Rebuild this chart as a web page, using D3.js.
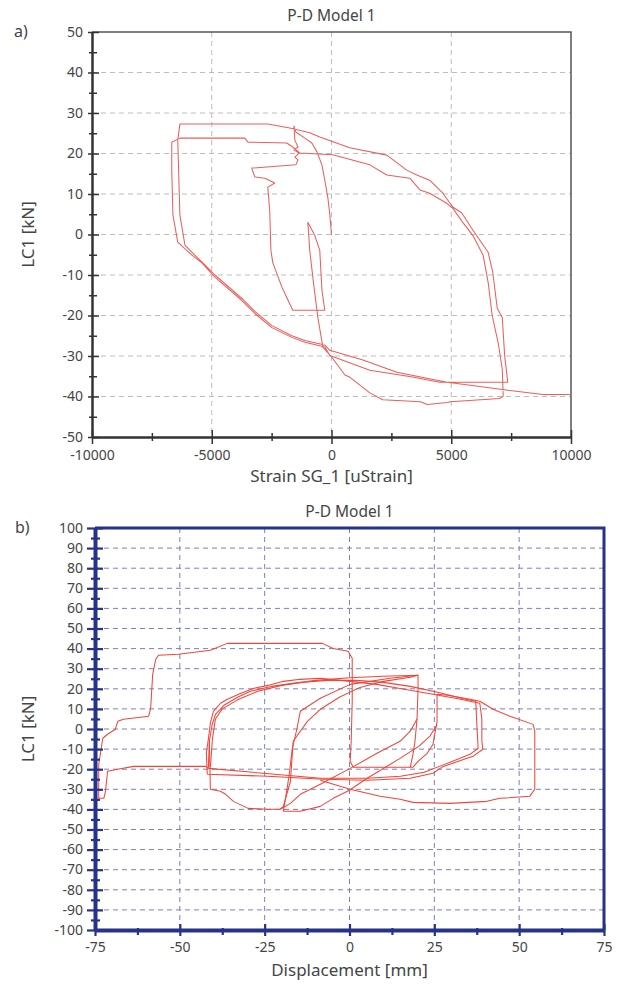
<!DOCTYPE html>
<html>
<head>
<meta charset="utf-8">
<script src="https://cdn.jsdelivr.net/npm/d3@7"></script>
<style>
  body { margin: 0; background: #fff; }
  text { font-family: "Noto Sans", sans-serif; fill: #454545; }
</style>
</head>
<body>
<svg id="chart" width="624" height="987"></svg>
<script>
// ---- panel a) : strain vs load ----
const strainTicks = [-10000, -5000, 0, 5000, 10000];
const strainMinor = [-7500, -2500, 2500, 7500];
const loadTicksA = [-50, -40, -30, -20, -10, 0, 10, 20, 30, 40, 50];

// [strain uStrain, load kN]
const strainLoad = [
  [0,0],[-70,4.8],[-150,9.0],[-280,13.4],[-400,17.2],[-610,20.4],[-820,22.6],[-1110,23.8],[-1490,25.3],[-1570,26.8],
  [-1530,23.3],[-1400,21.6],[-1570,20.9],[-1360,20.1],[-1530,19.1],[-1400,18.4],[-1490,17.2],
  [-3330,16.4],[-3200,14.2],[-2780,13.9],[-2370,12.7],[-2660,11.7],
  [-2580,6.0],[-2530,-3.9],[-2450,-7.0],[-2070,-13.0],[-1950,-14.5],[-1620,-18.7],[-280,-18.7],
  [-400,-13.7],[-490,-3.9],[-700,-0.2],[-990,3.0],
  [-950,-0.2],[-910,-3.9],[-740,-12.5],[-570,-20.5],[-360,-27.8],[10,-30.3],[560,-34.7],[760,-35.2],
  [1600,-39.1],[2140,-40.8],[3710,-41.3],[4000,-42.0],[4840,-41.5],[4960,-41.3],[7020,-40.5],[7170,-39.9],
  [7130,-33.2],[6960,-26.8],[6710,-20.0],[6540,-11.8],[6330,-5.1],[5900,-0.2],[5480,3.0],[5060,6.5],
  [4810,7.7],[4100,10.2],[3690,11.0],[3270,13.9],[2310,14.7],[1600,17.2],[50,19.7],
  [-1320,20.1],[-1620,21.6],[-1870,22.6],[-3490,22.8],[-3620,23.8],[-6330,23.8],[-6670,22.8],
  [-6670,15.9],[-6620,4.8],[-6420,-1.9],[-5830,-5.1],[-5410,-7.0],[-4870,-10.5],[-3740,-16.3],
  [-3200,-19.5],[-2490,-23.0],[-1660,-25.4],[-1110,-26.6],[-280,-27.8],
  [-70,-29.9],[1600,-33.5],[3390,-35.2],[4520,-36.5],[7360,-36.5],
  [7230,-29.9],[7130,-20.5],[6920,-18.2],[6730,-9.2],[6540,-4.4],[5900,1.1],[5440,5.3],[5060,6.8],
  [4650,10.2],[4100,13.4],[3560,14.7],[3140,15.9],[2310,19.6],[760,21.4],[-490,24.1],[-910,25.1],
  [-1740,26.3],[-2660,27.3],[-6330,27.3],
  [-6420,23.3],[-6330,4.8],[-6120,-2.6],[-5710,-5.1],[-5290,-7.5],[-4870,-10.0],[-3740,-15.8],
  [-3200,-19.0],[-2490,-22.5],[-1660,-25.0],[-1110,-26.2],[-280,-27.3],[-70,-28.6],
  [1310,-31.0],[2730,-34.0],[4400,-36.0],[4840,-36.5],[7450,-38.5],[8830,-39.5],[9950,-39.5]
];

// ---- panel b) : displacement vs load ----
const dispTicks = [-75, -50, -25, 0, 25, 50, 75];
const dispMinor = [-62.5, -37.5, -12.5, 12.5, 37.5, 62.5];
const loadTicksB = d3.range(-100, 101, 10);

const dispStep = [
  [-41.6,-19.5],[-42.4,-18.6],[-63.6,-18.6],[-68.3,-20.0],[-71.3,-21.0],[-71.9,-31.0],[-72.4,-34.5],
  [-73.9,-34.5],[-73.9,-17.6],[-72.7,-4.6],[-71.3,-2.6],[-69.0,-0.1],[-68.3,3.8],[-66.6,4.8],
  [-59.2,6.3],[-58.6,10.3],[-58.0,27.2],[-57.1,34.7],[-56.3,36.7],[-50.4,37.2],[-41.0,39.2],
  [-36.0,42.6],[-8.0,42.6],[-4.8,40.1],[-0.4,38.7],[0.8,35.2],[0.8,13.8],[0.5,-6.1],[0.2,-16.1],
  [1.1,-19.0],[18.7,-19.0],[20.2,-16.1],[22.9,-12.1],[24.6,-7.6],[25.8,3.8],[25.8,17.3],[29.0,16.8],
  [35.5,14.8],[38.4,13.8],[42.3,9.8],[47.3,6.3],[54.1,2.3],[54.6,-1.1],[54.6,-30.0],[53.1,-33.5],
  [44.3,-34.5],[40.5,-36.0],[29.6,-37.0],[18.7,-36.5],[14.9,-35.0],[9.0,-33.5],[0.2,-30.0],
  [-5.7,-27.0],[-8.6,-25.5]
];
const dispLoopA = [
  [-41.9,-22.5],[-42.2,-12],[-41.6,-5.1],[-41.0,3],[-40.1,8.8],[-38.0,12.8],[-36.0,14.8],[-32,17.8],
  [-28.3,20.2],[-24,21.7],[-19.5,23.7],[-14.5,24.7],[-8.6,25.2],[0.2,23.7],[8,22.2],[14.9,20.2],
  [24.6,17.3],[32,15],[38.4,12.8],[39.0,5.0],[39.0,-6.1],[39.3,-10.1],[36.4,-13.6],[27.6,-18.6],
  [24.6,-22.0],[17.9,-24.5],[5.2,-25.5],[-7.7,-25.0],[-24.2,-23.5],[-41.9,-22.5]
];
const dispLoopB = [
  [-41.6,-19.6],[-41.3,-6.1],[-40.5,2],[-39.5,7.3],[-37,11.8],[-33,15.8],[-29.2,18.8],[-23,21.2],
  [-14.5,23.2],[-6.6,24.2],[2,24.2],[10,23.2],[17.9,21.2],[26,18.3],[33,15.3],[37.2,13.8],[37.6,0],
  [37.9,-9.6],[35.5,-12.6],[28,-17.6],[22,-21.5],[15,-23.5],[5.2,-24.5],[-8.6,-24.5],[-25.4,-22.0],
  [-41.6,-19.6]
];
const dispLoopC = [
  [-41.0,-19.0],[-40.4,-5],[-39.5,5],[-37.5,10],[-33,14.5],[-27,18.8],[-20,21.7],[-10,24.2],
  [0,25.5],[10,26.2],[20.2,26.7],[20.2,20],[19.9,5],[19.3,-6.1],[18.7,-12.6],[17.9,-19.0]
];
const dispLowest = [
  [-41.3,-6.1],[-41.0,-30.0],[-38.0,-31.0],[-36.5,-32.5],[-34.2,-36.0],[-29.9,-39.5],[-24.2,-39.9],
  [-20.4,-39.9],[-19.5,-38.5],[-17.4,-26.0],[-16.6,-6.1],[-12.4,3.8],[-8.6,9.8],[-3,15.8],[3.1,20.7],
  [10,23.7],[17.9,25.7],[20.2,26.7]
];
const dispLens1 = [
  [-19.5,-40.9],[-14.5,-40.9],[-8.6,-38.5],[-4.8,-34.5],[0,-30.5],[5.2,-24.5],[14.9,-14.6],
  [20.5,-8.5],[23.7,-3.5],[25.8,2]
];
const dispLens2 = [
  [-20.4,-39.9],[-17.4,-37],[-14.5,-32.5],[-8.6,-27.5],[0.2,-19.6],[8.1,-12.1],[14.9,-6.1],
  [17.9,-1.1],[19.9,5]
];
const dispLens3 = [
  [-19.5,-40.9],[-18.9,-35],[-17.7,-22],[-16.9,-10],[-15.5,0],[-14.5,8.8],[-8.6,15.3],[0.2,22.2],
  [12.0,25.2],[20.2,26.7]
];

const svg = d3.select('#chart');
const fmt = d => String(d);

function drawPanel(cfg) {
  const x = d3.scaleLinear().domain(cfg.xDomain).range([cfg.left, cfg.right]);
  const y = d3.scaleLinear().domain(cfg.yDomain).range([cfg.bottom, cfg.top]);
  const g = svg.append('g');

  // grid
  g.selectAll('.gy').data(cfg.gridY).enter().append('line')
    .attr('x1', cfg.left).attr('x2', cfg.right)
    .attr('y1', d => y(d)).attr('y2', d => y(d))
    .attr('stroke', cfg.gridColor).attr('stroke-width', 1).attr('stroke-dasharray', '5,4');
  g.selectAll('.gx').data(cfg.gridX).enter().append('line')
    .attr('y1', cfg.top).attr('y2', cfg.bottom)
    .attr('x1', d => x(d)).attr('x2', d => x(d))
    .attr('stroke', cfg.gridColor).attr('stroke-width', 1).attr('stroke-dasharray', '5,4');

  // frame (top/right)
  g.append('path')
    .attr('d', `M${cfg.left},${cfg.top}H${cfg.right}V${cfg.bottom}`)
    .attr('fill', 'none').attr('stroke', cfg.frameColor).attr('stroke-width', cfg.frameWidth);

  // curves
  const line = d3.line().x(d => x(d[0])).y(d => y(d[1]));
  g.selectAll('.curve').data(cfg.paths).enter().append('path')
    .attr('d', line).attr('fill', 'none')
    .attr('stroke', cfg.lineColor).attr('stroke-width', 1.05).attr('stroke-linejoin', 'round');

  // y axis
  const yMinor = g.append('g').attr('transform', `translate(${cfg.left},0)`)
    .call(d3.axisLeft(y).tickValues(cfg.yMinor).tickFormat('').tickSizeOuter(0));
  yMinor.select('.domain').remove();
  yMinor.selectAll('.tick line').attr('x1', cfg.minorIn).attr('x2', -cfg.minorOut)
    .attr('stroke', cfg.axisColor).attr('stroke-width', cfg.tickWidth);

  const yAx = g.append('g').attr('transform', `translate(${cfg.left},0)`)
    .call(d3.axisLeft(y).tickValues(cfg.yTicks).tickFormat(fmt).tickSizeOuter(0).tickPadding(0));
  yAx.select('.domain').attr('stroke', cfg.axisColor).attr('stroke-width', cfg.axisWidth);
  yAx.selectAll('.tick line').attr('x1', cfg.majorIn).attr('x2', -cfg.majorOut)
    .attr('stroke', cfg.axisColor).attr('stroke-width', cfg.tickWidth);
  yAx.selectAll('.tick text').attr('x', -cfg.yLabelGap).attr('dy', '0.3em').attr('font-size', cfg.fontSize)
    .attr('font-family', '"Noto Sans", sans-serif').attr('fill', '#454545');

  // x axis
  const xMinor = g.append('g').attr('transform', `translate(0,${cfg.bottom})`)
    .call(d3.axisBottom(x).tickValues(cfg.xMinor).tickFormat('').tickSizeOuter(0));
  xMinor.select('.domain').remove();
  xMinor.selectAll('.tick line').attr('y1', -cfg.xMinorIn).attr('y2', cfg.xMinorOut)
    .attr('stroke', cfg.axisColor).attr('stroke-width', cfg.tickWidth);

  const xAx = g.append('g').attr('transform', `translate(0,${cfg.bottom})`)
    .call(d3.axisBottom(x).tickValues(cfg.xTicks).tickFormat(fmt).tickSizeOuter(0));
  xAx.select('.domain').attr('stroke', cfg.axisColor).attr('stroke-width', cfg.axisWidth);
  xAx.selectAll('.tick line').attr('y1', -cfg.xMajorIn).attr('y2', cfg.xMajorOut)
    .attr('stroke', cfg.axisColor).attr('stroke-width', cfg.tickWidth);
  xAx.selectAll('.tick text').attr('y', cfg.xLabelGap).attr('dy', '0.71em').attr('font-size', cfg.fontSize)
    .attr('font-family', '"Noto Sans", sans-serif').attr('fill', '#454545');

  // titles
  g.append('text').attr('x', x(0)).attr('y', cfg.top - 11).attr('text-anchor', 'middle')
    .attr('font-size', 15.5).text(cfg.title);
  g.append('text').attr('x', cfg.tagX).attr('y', cfg.top + 5).attr('font-size', 16).text(cfg.tag);
  g.append('text').attr('x', x(0)).attr('y', cfg.bottom + cfg.xTitleGap).attr('text-anchor', 'middle')
    .attr('font-size', 17).text(cfg.xTitle);
  g.append('text')
    .attr('transform', `translate(34,${(cfg.top + cfg.bottom) / 2}) rotate(-90)`)
    .attr('text-anchor', 'middle').attr('font-size', 17).text(cfg.yTitle);
}

drawPanel({
  left: 92, right: 571, top: 32, bottom: 437,
  xDomain: [-10000, 10000], yDomain: [-50, 50],
  xTicks: strainTicks, xMinor: strainMinor,
  yTicks: loadTicksA, yMinor: d3.range(-45, 50, 10),
  gridX: [-5000, 0, 5000], gridY: d3.range(-40, 41, 10),
  gridColor: '#bdbdbd', axisColor: '#333', frameColor: '#555',
  axisWidth: 2.5, frameWidth: 1.5, tickWidth: 1.5,
  majorIn: 7, majorOut: 4, minorIn: 5, minorOut: 3,
  xMajorIn: 7, xMajorOut: 7, xMinorIn: 4, xMinorOut: 4,
  yLabelGap: 9, xLabelGap: 13, fontSize: 14,
  lineColor: '#e8605c', paths: [strainLoad],
  title: 'P-D Model 1', tag: 'a)', tagX: 14,
  xTitle: 'Strain SG_1 [uStrain]', xTitleGap: 45, yTitle: 'LC1 [kN]'
});

drawPanel({
  left: 95, right: 604, top: 528, bottom: 930,
  xDomain: [-75, 75], yDomain: [-100, 100],
  xTicks: dispTicks, xMinor: dispMinor,
  yTicks: loadTicksB, yMinor: d3.range(-95, 100, 10),
  gridColor: '#7a80bd', axisColor: '#25338a', frameColor: '#25338a',
  gridX: [-50, -25, 0, 25, 50], gridY: d3.range(-90, 91, 10),
  axisWidth: 4, frameWidth: 3, tickWidth: 2.2,
  majorIn: 8, majorOut: 8, minorIn: 5, minorOut: 4,
  xMajorIn: 6, xMajorOut: 6, xMinorIn: 2, xMinorOut: 5,
  yLabelGap: 12, xLabelGap: 12, fontSize: 14,
  lineColor: '#f2453a', paths: [dispStep, dispLoopA, dispLoopB, dispLoopC, dispLowest, dispLens1, dispLens2, dispLens3],
  title: 'P-D Model 1', tag: 'b)', tagX: 15,
  xTitle: 'Displacement [mm]', xTitleGap: 46, yTitle: 'LC1 [kN]'
});
</script>
</body>
</html>
